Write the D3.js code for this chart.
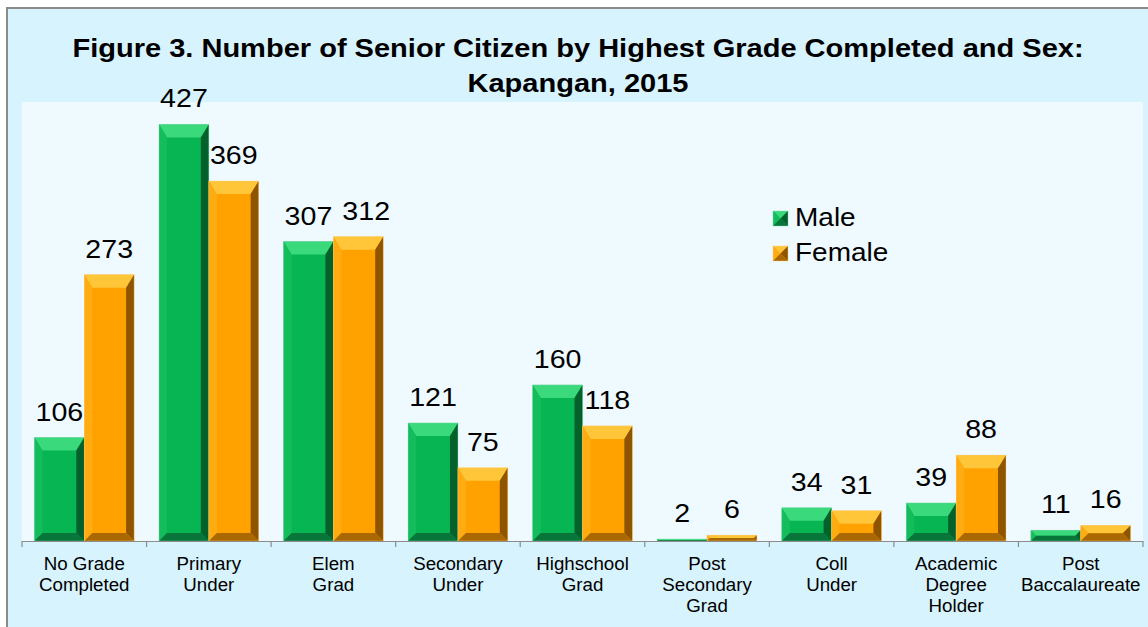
<!DOCTYPE html>
<html>
<head>
<meta charset="utf-8">
<script src="https://cdn.jsdelivr.net/npm/d3@7"></script>
<style>
  body { margin: 0; background: #fff; }
  svg { display: block; font-family: "Liberation Sans", Arial, sans-serif; }
</style>
</head>
<body>
<svg id="chart" width="1148" height="627"></svg>
<script>
const categories = [
    ["No Grade", "Completed"],
    ["Primary", "Under"],
    ["Elem", "Grad"],
    ["Secondary", "Under"],
    ["Highschool", "Grad"],
    ["Post", "Secondary", "Grad"],
    ["Coll", "Under"],
    ["Academic", "Degree", "Holder"],
    ["Post", "Baccalaureate"]
];
const maleValues = [106, 427, 307, 121, 160, 2, 34, 39, 11];
const femaleValues = [273, 369, 312, 75, 118, 6, 31, 88, 16];
const seriesNames = ["Male", "Female"];

const svg = d3.select("#chart");

// colors for face / top / left / right / bottom bevels
const palette = {
    Male:   { face: "#07b552", top: "#3ad97c", left: "#14bd5c", right: "#05612c", bottom: "#08753a", edge: "#7fd9a6" },
    Female: { face: "#ffa200", top: "#ffc63a", left: "#ffab12", right: "#8f5400", bottom: "#a96800", edge: "#ffd27a" }
};

// text drawn with a slight horizontal stretch, like the original
function stretchText(g, x, y, sx, size) {
    return g.append("text")
        .attr("transform", "translate(" + x + "," + y + ") scale(" + sx + ",1)")
        .attr("font-size", size)
        .attr("fill", "#000");
}

// outer panel
svg.append("rect")
    .attr("x", 7).attr("y", 8)
    .attr("width", 1150).attr("height", 640)
    .attr("fill", "#d7f3fd")
    .attr("stroke", "#8a8a8a")
    .attr("stroke-width", 2);

const plot = { left: 22, right: 1143, top: 102, bottom: 541 };

svg.append("rect")
    .attr("x", plot.left).attr("y", plot.top)
    .attr("width", plot.right - plot.left)
    .attr("height", plot.bottom - plot.top)
    .attr("fill", "#eefaff");

// title
stretchText(svg, 578, 57, 1.117, 26)
    .attr("text-anchor", "middle").attr("font-weight", "bold")
    .text("Figure 3. Number of Senior Citizen by Highest Grade Completed and Sex:");
stretchText(svg, 578, 92, 1.117, 26)
    .attr("text-anchor", "middle").attr("font-weight", "bold")
    .text("Kapangan, 2015");

const x0 = d3.scaleBand()
    .domain(d3.range(categories.length))
    .range([plot.left, plot.right])
    .paddingInner(0.2)
    .paddingOuter(0.1);

const x1 = d3.scaleBand()
    .domain(seriesNames)
    .range([0, x0.bandwidth()]);

const y = d3.scaleLinear()
    .domain([0, 450])
    .range([plot.bottom, plot.top]);

// bevelled bar
function drawBar(g, x, yTop, w, h, col) {
    const b = Math.min(8, h / 2, w / 2);
    const bt = Math.min(13, h / 2);
    const x2 = x + w, y2 = yTop + h;
    const poly = pts => pts.map(p => p.join(",")).join(" ");
    g.append("rect").attr("x", x).attr("y", yTop).attr("width", w).attr("height", h).attr("fill", col.face);
    g.append("polygon").attr("points", poly([[x, yTop], [x2, yTop], [x2 - b, yTop + bt], [x + b, yTop + bt]])).attr("fill", col.top);
    g.append("polygon").attr("points", poly([[x, yTop], [x + b, yTop + bt], [x + b, y2 - b], [x, y2]])).attr("fill", col.left);
    g.append("polygon").attr("points", poly([[x2, yTop], [x2, y2], [x2 - b, y2 - b], [x2 - b, yTop + bt]])).attr("fill", col.right);
    g.append("polygon").attr("points", poly([[x, y2], [x + b, y2 - b], [x2 - b, y2 - b], [x2, y2]])).attr("fill", col.bottom);
    g.append("rect").attr("x", x).attr("y", yTop).attr("width", w).attr("height", h)
        .attr("fill", "none").attr("stroke", col.edge).attr("stroke-width", 0.6).attr("opacity", 0.7);
}

const series = [maleValues, femaleValues];
const barsG = svg.append("g");
const labelsG = svg.append("g");
categories.forEach((c, i) => {
    const labels = [];
    seriesNames.forEach((s, k) => {
        const v = series[k][i];
        const bx = x0(i) + x1(s);
        const by = y(v);
        drawBar(barsG, bx, by, x1.bandwidth(), plot.bottom - by, palette[s]);
        const cx = bx + x1.bandwidth() / 2;
        const t = stretchText(labelsG, cx, by - 17, 1.1, 26)
            .attr("text-anchor", "middle")
            .text(v);
        labels.push({ t, cx, y: by - 17 });
    });
    // nudge the female label right when the two labels sit at nearly the same height and touch
    const [m, f] = labels;
    if (Math.abs(m.y - f.y) < 20) {
        const wm = m.t.node().getBBox().width * 1.1;
        const wf = f.t.node().getBBox().width * 1.1;
        const gap = (f.cx - wf / 2) - (m.cx + wm / 2);
        if (gap < 10) {
            const nx = f.cx + (10 - gap);
            f.t.attr("transform", "translate(" + nx + "," + f.y + ") scale(1.1,1)");
        }
    }
});

// x axis
const axisG = svg.append("g");
axisG.append("line")
    .attr("x1", plot.left).attr("x2", plot.right)
    .attr("y1", plot.bottom + 0.5).attr("y2", plot.bottom + 0.5)
    .attr("stroke", "#8c8c8c").attr("stroke-width", 1.2);
const step = (plot.right - plot.left) / categories.length;
d3.range(categories.length + 1).forEach(i => {
    const tx = plot.left + i * step;
    axisG.append("line")
        .attr("x1", tx).attr("x2", tx)
        .attr("y1", plot.bottom).attr("y2", plot.bottom + 6)
        .attr("stroke", "#8c8c8c").attr("stroke-width", 1.2);
});
categories.forEach((c, i) => {
    c.forEach((line, j) => {
        stretchText(axisG, x0(i) + x0.bandwidth() / 2, 570 + j * 21, 1.07, 17.5)
            .attr("text-anchor", "middle")
            .text(line);
    });
});

// legend
const legend = svg.append("g");
seriesNames.forEach((s, k) => {
    const ly = 211 + k * 35;
    drawBar(legend, 773, ly, 15, 15, palette[s]);
    stretchText(legend, 795, ly + 15, 1.12, 25).text(s);
});
</script>
</body>
</html>
